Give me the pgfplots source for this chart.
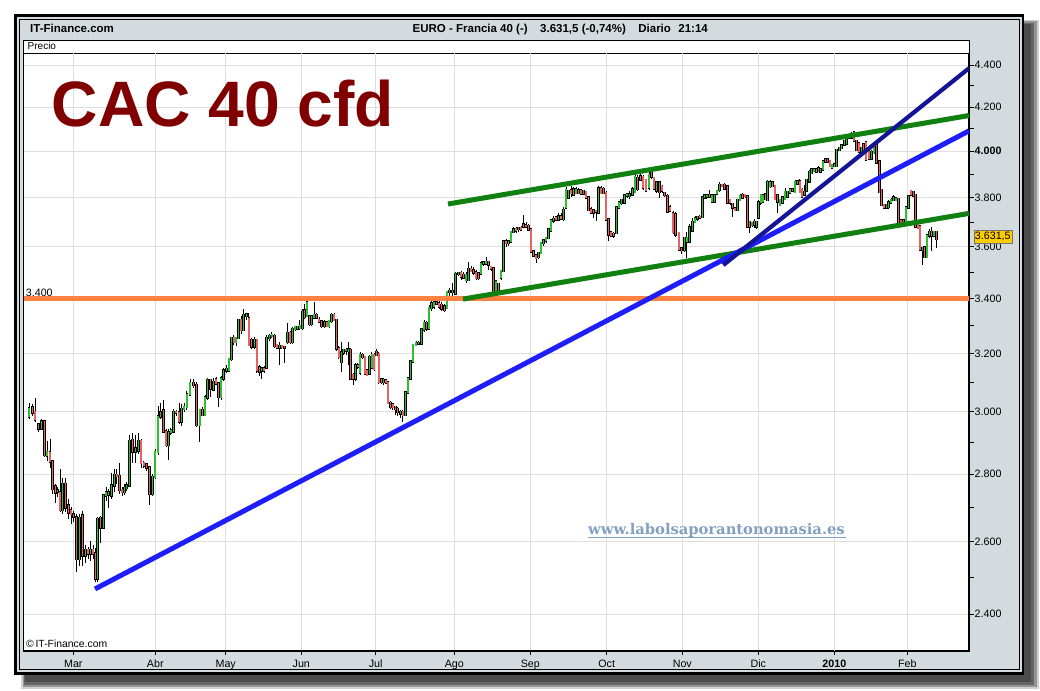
\documentclass[border=0pt]{standalone}
\usepackage{pgfplots}
\pgfplotsset{compat=1.18}
\usepackage{pgfplotstable}
\usepackage{fontspec}
\setmainfont{Liberation Sans}
\newfontfamily\wmfont{DejaVu Serif}
\definecolor{panel}{RGB}{212,219,222}
\definecolor{gridc}{RGB}{222,222,222}
\definecolor{upc}{RGB}{50,190,50}
\definecolor{dnc}{RGB}{226,100,100}
\definecolor{orangel}{RGB}{255,130,64}
\definecolor{bluel}{RGB}{30,30,250}
\definecolor{navyl}{RGB}{20,20,150}
\definecolor{greenl}{RGB}{16,128,16}
\definecolor{titlec}{RGB}{128,0,0}
\definecolor{wmc}{RGB}{130,160,192}
\definecolor{boxc}{RGB}{255,204,0}
\pgfplotsset{
  candle/.style={draw=none, mark=none, forget plot,
    error bars/.cd, y dir=minus, y explicit, error mark=none},
}
\begin{document}
\pgfplotstableread{
x o h l c
29 2985 3030 2978 3012
32.3 3015 3025 2985 2998
35 3000 3045 2968 2975
38.3 2958 2962 2935 2946
41.7 2946 2975 2940 2968
44.3 2968 2972 2855 2860
46.9 2858 2905 2840 2870
50 2868 2912 2820 2840
52.7 2840 2845 2740 2755
55.2 2762 2770 2713 2745
57.6 2748 2760 2730 2750
60 2745 2815 2685 2692
62.7 2692 2790 2680 2770
65.4 2770 2790 2685 2700
68.2 2705 2725 2665 2685
71 2690 2700 2650 2680
73.7 2678 2690 2655 2672
76.7 2670 2680 2515 2550
79.5 2550 2680 2530 2668
82.4 2675 2690 2530 2560
85.2 2560 2590 2540 2575
88 2575 2585 2550 2565
90.7 2565 2600 2545 2575
92.9 2575 2590 2550 2565
95.2 2565 2580 2485 2495
97.6 2495 2672 2485 2665
100.5 2668 2675 2596 2640
103.3 2640 2740 2635 2735
106 2735 2760 2720 2745
108.6 2745 2755 2698 2738
111.5 2735 2804 2725 2765
114.2 2765 2815 2745 2798
116.8 2798 2815 2770 2795
119.4 2795 2835 2740 2752
121.9 2752 2760 2735 2746
124.2 2746 2770 2738 2758
126.6 2758 2775 2750 2765
129.3 2765 2925 2760 2905
132.4 2908 2930 2835 2872
135.3 2872 2925 2835 2880
138.2 2875 2930 2865 2905
140.9 2905 2910 2820 2835
143.8 2835 2840 2820 2828
146.6 2830 2835 2810 2822
149.4 2822 2825 2706 2740
152.3 2740 2800 2735 2792
155.1 2792 2880 2785 2870
158 2870 3020 2860 2984
160.7 2984 3030 2975 2997
163.4 3005 3040 2930 2936
165.9 2936 2945 2885 2892
168.4 2892 2945 2845 2933
170.8 2933 2948 2925 2938
173.3 2935 3010 2930 3000
176 3000 3005 2985 2997
178.9 2998 3030 2960 2968
181.6 2968 3025 2955 3010
184.1 3010 3030 3000 3016
186.8 3016 3070 3005 3057
190 3057 3110 3055 3097
193.3 3097 3110 3080 3090
196.7 3090 3100 2950 2957
199.8 2957 3010 2902 3006
202.4 3006 3015 2985 2990
205 2990 3055 2985 3047
207.7 3047 3115 3040 3107
210.3 3107 3110 3050 3078
213.2 3075 3115 3070 3100
215.9 3110 3118 3090 3095
218.5 3095 3100 3015 3050
221 3050 3120 3040 3113
223.7 3113 3150 3105 3141
226.3 3141 3160 3130 3145
228.8 3141 3185 3135 3180
231.3 3180 3260 3175 3255
233.8 3255 3265 3230 3240
236.1 3240 3260 3225 3255
238.5 3255 3325 3250 3320
241.1 3320 3335 3270 3284
243.7 3284 3361 3280 3339
246.2 3335 3345 3320 3340
248.8 3325 3345 3225 3230
251.6 3248 3255 3215 3225
254.2 3225 3260 3215 3248
256.8 3248 3250 3130 3141
259.3 3150 3160 3120 3136
261.6 3140 3150 3110 3148
264 3148 3155 3130 3140
266.7 3151 3265 3145 3255
269.3 3255 3270 3245 3262
271.8 3262 3275 3255 3266
274.2 3262 3270 3220 3226
276.8 3230 3235 3215 3222
279.3 3222 3240 3160 3226
281.8 3226 3230 3215 3223
284.3 3223 3228 3165 3220
287.2 3240 3310 3235 3273
289.9 3273 3280 3235 3240
292.6 3240 3295 3235 3287
295 3287 3300 3280 3294
297.4 3290 3298 3282 3295
299.8 3291 3320 3285 3298
302.2 3291 3360 3285 3350
304.5 3355 3380 3325 3332
306.9 3335 3390 3330 3385
309.2 3333 3340 3300 3305
311.5 3305 3340 3300 3333
313.9 3330 3385 3325 3338
316.4 3338 3345 3325 3330
319 3320 3330 3310 3314
321.7 3314 3318 3290 3298
324.3 3298 3320 3290 3312
326.8 3312 3318 3295 3298
329.1 3298 3320 3290 3316
331.5 3316 3345 3310 3339
333.9 3339 3345 3315 3320
336.3 3320 3325 3210 3218
338.8 3218 3225 3180 3187
341.2 3170 3240 3135 3204
343.6 3204 3215 3195 3212
345.9 3210 3218 3195 3212
348.2 3208 3240 3160 3214
350.5 3212 3218 3110 3113
352.9 3125 3130 3090 3113
355.4 3113 3165 3105 3158
357.8 3158 3165 3145 3155
360.1 3134 3205 3125 3194
362.5 3194 3200 3180 3187
364.8 3187 3190 3125 3130
367.1 3140 3145 3120 3125
369.4 3130 3195 3125 3187
371.8 3150 3205 3145 3194
374.1 3194 3200 3140 3145
376.4 3205 3215 3190 3195
378.8 3198 3205 3095 3100
381.2 3110 3115 3095 3100
383.5 3100 3115 3090 3108
385.8 3105 3110 3095 3098
388.1 3098 3105 3025 3030
390.4 3030 3035 3010 3016
392.8 3025 3030 3005 3016
395.2 3016 3020 2990 3010
397.7 3010 3015 2985 3000
400.3 2995 3005 2980 3000
402.8 3000 3005 2965 2990
405.2 2990 3065 2985 3064
407.8 3064 3115 3060 3113
410.4 3113 3175 3110 3172
413.1 3172 3235 3165 3230
415.9 3230 3245 3225 3237
418.6 3237 3245 3230 3235
421.3 3235 3290 3230 3285
424 3285 3320 3275 3310
426.5 3310 3315 3280 3290
429 3290 3375 3285 3365
431.5 3365 3390 3355 3380
434 3370 3400 3360 3385
436.5 3385 3395 3375 3380
439 3380 3390 3360 3370
441.7 3375 3385 3355 3362
444.3 3370 3380 3350 3357
447 3365 3430 3360 3425
449.7 3425 3440 3410 3428
452.5 3428 3460 3400 3425
455.5 3420 3500 3415 3493
458.2 3493 3500 3485 3497
460.9 3497 3505 3470 3483
463.4 3490 3500 3475 3480
465.9 3470 3500 3460 3490
468.4 3470 3540 3465 3512
471 3512 3525 3500 3505
473.5 3508 3520 3490 3498
476 3500 3510 3470 3478
478.5 3495 3500 3470 3478
481 3495 3545 3490 3535
483.5 3535 3545 3525 3537
486 3535 3560 3530 3540
488.5 3540 3545 3510 3530
491 3520 3525 3505 3515
493.5 3515 3520 3415 3420
496 3428 3470 3410 3465
498.5 3455 3460 3420 3430
501 3480 3510 3470 3505
503.5 3505 3625 3500 3620
506 3620 3630 3600 3615
508.5 3615 3625 3605 3620
511 3620 3665 3615 3660
513.5 3660 3680 3655 3670
516 3672 3680 3655 3665
518.5 3672 3680 3660 3675
521 3675 3685 3665 3670
523.5 3690 3730 3675 3680
526 3685 3700 3675 3680
528.5 3683 3690 3665 3670
531 3670 3675 3575 3580
533.5 3580 3585 3560 3565
536 3565 3570 3535 3555
538.5 3560 3580 3550 3575
541 3575 3620 3570 3615
543.5 3615 3630 3605 3625
546 3625 3640 3615 3635
548.5 3635 3675 3630 3668
551 3665 3710 3660 3705
553.5 3705 3725 3695 3712
556 3718 3725 3705 3710
558.5 3710 3735 3705 3722
561 3722 3735 3710 3715
563.5 3712 3760 3705 3750
566 3760 3845 3755 3832
568.5 3800 3835 3795 3828
571 3830 3850 3805 3820
573.5 3835 3845 3810 3815
576 3820 3845 3815 3835
578.5 3830 3840 3815 3820
581 3830 3838 3810 3818
583.5 3818 3835 3810 3828
586 3825 3830 3795 3800
588.5 3800 3805 3745 3750
591 3752 3760 3735 3740
593.5 3748 3755 3715 3740
596 3745 3750 3705 3742
598.5 3740 3850 3735 3840
601 3840 3850 3815 3820
603.5 3838 3845 3815 3821
606 3821 3830 3705 3710
608.5 3710 3715 3625 3650
611 3656 3662 3640 3646
613.5 3652 3660 3635 3645
616.3 3655 3765 3650 3760
619 3760 3785 3755 3780
621.6 3778 3795 3770 3790
624.4 3780 3815 3775 3810
627 3810 3820 3800 3815
629.6 3808 3830 3795 3815
632.3 3815 3845 3810 3835
635.1 3825 3900 3820 3888
637.7 3885 3895 3830 3838
640.3 3890 3905 3870 3878
643.1 3888 3895 3835 3843
646 3875 3880 3825 3830
648.9 3843 3910 3835 3897
651.5 3910 3915 3880 3890
654.1 3885 3890 3835 3840
656.7 3830 3870 3820 3865
659.3 3865 3870 3800 3825
661.9 3845 3855 3820 3830
664.6 3820 3825 3805 3812
667.3 3808 3815 3735 3742
670 3760 3768 3740 3748
672.9 3735 3745 3650 3660
675.6 3730 3740 3640 3650
678.8 3655 3660 3585 3590
681.6 3592 3598 3570 3588
684.2 3588 3640 3580 3635
686.8 3620 3660 3555 3635
689.6 3620 3690 3615 3678
692.3 3665 3715 3660 3700
695 3700 3725 3695 3715
697.5 3715 3725 3705 3720
699.8 3720 3728 3710 3717
702.2 3720 3805 3715 3800
704.5 3800 3815 3795 3810
706.8 3805 3815 3795 3810
709.3 3812 3835 3800 3805
711.8 3785 3815 3780 3810
714.3 3785 3812 3780 3810
716.8 3818 3832 3812 3828
719.3 3832 3865 3825 3855
721.8 3855 3860 3845 3850
724.6 3855 3862 3835 3840
727.3 3848 3855 3775 3780
730 3790 3795 3770 3780
732.6 3775 3780 3720 3758
735 3755 3760 3745 3750
737.6 3750 3795 3745 3790
740.1 3790 3815 3785 3808
742.6 3812 3820 3795 3800
745 3812 3818 3800 3808
747.3 3805 3808 3675 3680
749.7 3700 3705 3655 3680
752 3688 3700 3680 3695
754.2 3700 3710 3675 3690
756.3 3680 3705 3670 3700
758.5 3718 3790 3710 3780
760.8 3780 3815 3770 3812
763.1 3785 3815 3780 3810
765.4 3815 3820 3790 3795
767.7 3790 3875 3785 3867
770 3850 3875 3840 3865
772.4 3865 3870 3845 3850
774.8 3850 3855 3790 3795
777.3 3810 3815 3735 3785
780 3770 3795 3765 3790
782.6 3780 3805 3775 3800
785 3795 3840 3790 3825
787.4 3805 3830 3800 3825
790 3822 3840 3815 3835
792.6 3835 3840 3825 3830
795 3825 3875 3820 3867
797.5 3860 3875 3855 3870
799.8 3870 3880 3820 3825
802 3832 3840 3800 3805
804.3 3815 3855 3810 3825
806.7 3830 3880 3825 3875
809.3 3870 3920 3865 3910
811.7 3905 3925 3900 3920
814 3915 3925 3910 3920
816.2 3912 3925 3905 3920
818.4 3925 3935 3910 3915
820.6 3912 3925 3905 3920
822.9 3920 3960 3915 3955
825.2 3965 3970 3950 3955
827.5 3965 3970 3950 3955
829.8 3958 3962 3930 3935
832 3930 3945 3925 3940
834.3 3935 3945 3930 3942
836.7 3935 4010 3930 4005
839.2 4005 4020 4000 4015
841.7 4015 4030 4010 4025
844.2 4030 4050 4025 4045
846.7 4035 4070 4030 4065
849.2 4062 4075 4055 4070
851.6 4075 4085 4060 4062
854 4085 4090 4040 4048
856.5 4045 4050 4000 4006
858.9 4035 4040 3995 4000
861.2 4000 4020 3995 4015
863.6 4030 4035 4008 4010
866 4040 4045 3960 3965
868.8 4000 4005 3965 3970
871.4 3970 4005 3965 3998
874 3998 4030 3990 4025
876.6 4025 4030 3945 3950
879.2 3955 3960 3820 3825
881.7 3832 3835 3765 3770
884 3770 3775 3755 3760
886.3 3760 3775 3755 3770
888.6 3762 3790 3755 3780
891 3780 3800 3775 3790
893.4 3790 3810 3785 3800
895.9 3790 3805 3785 3798
898.3 3795 3800 3690 3696
900.8 3706 3712 3690 3700
903.3 3705 3710 3685 3698
905.9 3700 3765 3695 3760
908.4 3760 3812 3755 3805
911 3828 3835 3810 3815
913.4 3825 3830 3805 3810
915.7 3812 3815 3675 3680
917.9 3690 3695 3670 3675
920.1 3680 3685 3585 3590
922.4 3588 3600 3530 3595
924.6 3598 3605 3555 3560
926.9 3560 3650 3555 3645
929.2 3645 3670 3635 3660
931.6 3660 3680 3585 3645
934.1 3645 3665 3640 3660
936.6 3660 3665 3596 3631.5
}\candles
\begin{tikzpicture}
\useasboundingbox (0pt,0pt) rectangle (1040pt,-690pt);
\begin{scope}[x=1pt,y=-1pt]
\fill[white] (0,0) rectangle (1040,690);
% shadow
\fill[black!18] (21,20) rectangle (1038.5,689);
\fill[black!42] (22.5,21.5) rectangle (1036.5,687);
\fill[black!60] (24,23) rectangle (1034,684.5);
\fill[black!70] (25,24) rectangle (1031,682);
% panel
\fill[panel] (15.5,15.5) rectangle (1023,673.5);
\draw[line width=2.2pt] (15.5,15.5) rectangle (1023,673.5);
\draw[line width=0.9pt] (19.5,19.5) rectangle (1019.5,669.5);
% plot area
\fill[white] (23.5,40.7) rectangle (969,651);
\draw[line width=0.8pt] (23.5,40.7) rectangle (969,651);
\draw[line width=0.8pt] (23.5,53) -- (969,53);
% header
\node[anchor=base west, inner sep=0pt, font=\bfseries\fontsize{11.5}{13}\selectfont] at (30,33) {IT-Finance.com};
\node[anchor=base west, inner sep=0pt, font=\bfseries\fontsize{11.5}{13}\selectfont] at (412.5,33) {EURO - Francia 40 (-)\hspace{12.5pt}3.631,5 (-0,74\%)\hspace{12.5pt}Diario\hspace{7.5pt}21:14};
\node[anchor=base west, inner sep=0pt, font=\fontsize{10}{11}\selectfont] at (27.5,50) {Precio};
\end{scope}
\begin{axis}[
  at={(23.5pt,-651pt)}, anchor=south west,
  scale only axis, width=945.5pt, height=598pt,
  xmin=23.5, xmax=969,
  ymode=log, ymin=2303.9, ymax=4458.8,
  axis x line*=bottom, axis y line*=right,
  axis line style={black, line width=1.7pt},
  tick align=outside,
  major tick length=4.5pt, minor tick length=4.5pt,
  every tick/.style={black, line width=0.8pt},
  xtick={73.3,155.3,225.7,301.3,375.7,454.3,530.3,606.7,682.3,758.3,907.3},
  xticklabels={Mar,Abr,May,Jun,Jul,Ago,Sep,Oct,Nov,Dic,Feb},
  extra x ticks={834.3},
  extra x tick labels={\textbf{2010}},
  extra x tick style={grid style={black!38, line width=0.9pt}},
  ytick={2400,2600,2800,3000,3200,3400,3600,3800,4000,4200,4400},
  yticklabels={2.400,2.600,2.800,3.000,3.200,3.400,3.600,3.800,\textbf{4.000},4.200,4.400},
  minor ytick={2500,2700,2900,3100,3300,3500,3700,3900,4100,4300},
  grid=major, major grid style={gridc, line width=0.8pt},
  minor grid style={draw=none},
  tick label style={font=\fontsize{10.7}{12}\selectfont, black},
  xticklabel style={anchor=north, inner sep=0pt, yshift=-4.5pt},
  yticklabel style={anchor=west, inner sep=0pt, xshift=1pt},
]
% wicks
\addplot[candle, error bar style={draw=black, line width=0.8pt}]
  table[x=x, y=h, y error expr=\thisrow{h}-\thisrow{l}] {\candles};
% bodies up
\addplot[candle, error bar style={draw=black, line width=2.6pt, line cap=rect},
  /pgfplots/restrict expr to domain={\thisrow{c}-\thisrow{o}}{0:100000}]
  table[x=x, y=c, y error expr=\thisrow{c}-\thisrow{o}] {\candles};
\addplot[candle, error bar style={draw=upc, line width=1.4pt, line cap=rect},
  /pgfplots/restrict expr to domain={\thisrow{c}-\thisrow{o}}{0:100000}]
  table[x=x, y=c, y error expr=\thisrow{c}-\thisrow{o}] {\candles};
% bodies down
\addplot[candle, error bar style={draw=black, line width=2.6pt, line cap=rect},
  /pgfplots/restrict expr to domain={\thisrow{o}-\thisrow{c}}{0.001:100000}]
  table[x=x, y=o, y error expr=\thisrow{o}-\thisrow{c}] {\candles};
\addplot[candle, error bar style={draw=dnc, line width=1.4pt, line cap=rect},
  /pgfplots/restrict expr to domain={\thisrow{o}-\thisrow{c}}{0.001:100000}]
  table[x=x, y=o, y error expr=\thisrow{o}-\thisrow{c}] {\candles};
% trend lines
\addplot[orangel, line width=5pt] coordinates {(23.5,3400) (969,3400)};
\addplot[greenl, line width=5pt] coordinates {(448,3774) (969,4161)};
\addplot[greenl, line width=5pt] coordinates {(463,3398) (969,3735)};
\addplot[bluel, line width=5pt] coordinates {(95,2467) (969,4091)};
\addplot[navyl, line width=4.2pt] coordinates {(723.3,3528) (969,4384)};
\end{axis}
\begin{scope}[x=1pt,y=-1pt]
\node[anchor=base west, inner sep=0pt, font=\bfseries\fontsize{64.2}{66}\selectfont, text=titlec] at (51.5,126.7) {CAC 40 cfd};
\node[anchor=base west, inner sep=0pt, font=\fontsize{10.7}{12}\selectfont] at (25.7,296) {3.400};
\node[anchor=base west, inner sep=0pt, font=\fontsize{10.4}{12}\selectfont] at (26,647) {\textcopyright\,IT-Finance.com};
\node[anchor=base west, inner sep=0pt, font=\wmfont\bfseries\fontsize{14.7}{16}\selectfont, text=wmc] at (588,534) {www.labolsaporantonomasia.es};
\draw[wmc, line width=0.9pt] (588,537.5) -- (846,537.5);
\node[fill=boxc, draw=black!55, line width=0.5pt, inner xsep=1.2pt, inner ysep=0pt, minimum height=13.5pt, font=\fontsize{10.7}{12}\selectfont, anchor=west] at (973.5,236.8) {3.631,5};
\end{scope}
\end{tikzpicture}
\end{document}
